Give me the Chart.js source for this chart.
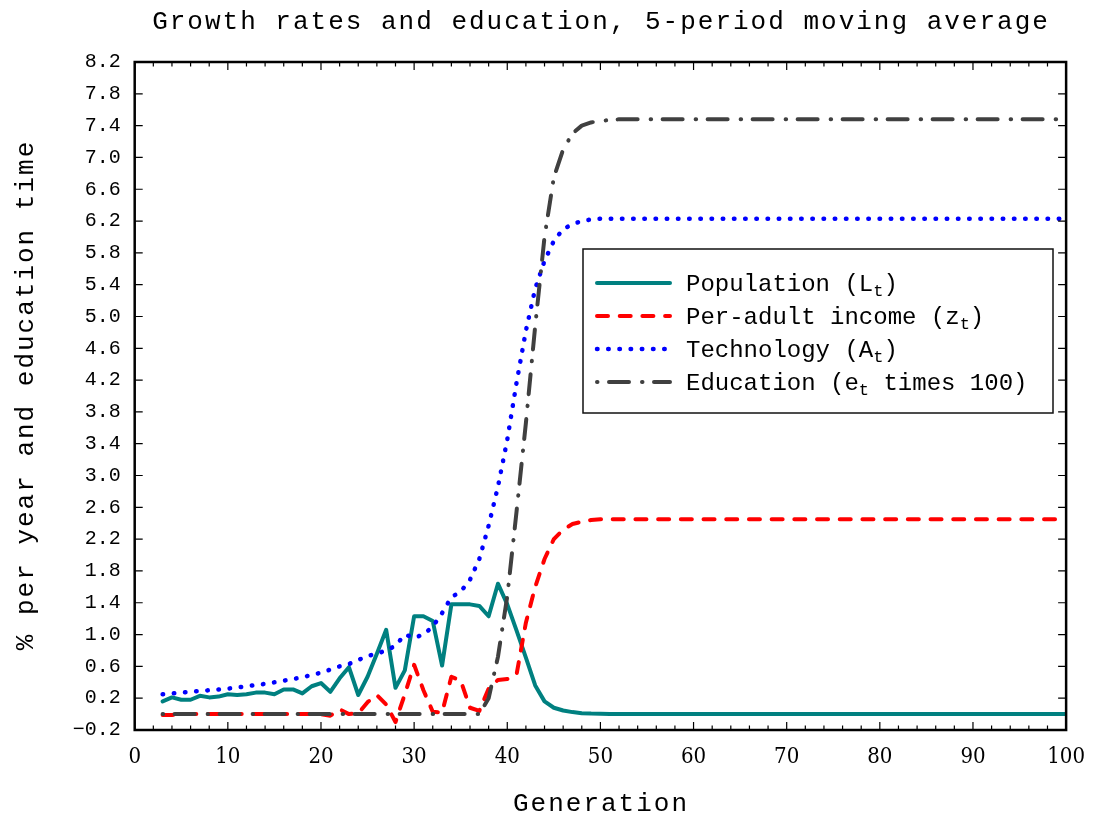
<!DOCTYPE html>
<html>
<head>
<meta charset="utf-8">
<script src="https://cdn.jsdelivr.net/npm/chart.js@4.4.0/dist/chart.umd.min.js"></script>
<style>
  html, body { margin: 0; padding: 0; background: #ffffff; }
  #wrap { width: 1099px; height: 818px; position: relative; }
</style>
</head>
<body>
<div id="wrap"><canvas id="chart" width="1099" height="818"></canvas></div>
<script>
// Generations (x values)
const generations = [
  3, 4, 5, 6, 7, 8, 9, 10, 11, 12, 13, 14, 15, 16, 17, 18, 19, 20, 21, 22, 23, 24,
  25, 26, 27, 28, 29, 30, 31, 32, 33, 34, 35, 36, 37, 38, 39, 40, 41, 42, 43, 44, 45, 46, 47, 48, 49, 50,
  51, 52, 53, 54, 55, 56, 57, 58, 59, 60, 61, 62, 63, 64, 65, 66, 67, 68, 69, 70,
  71, 72, 73, 74, 75, 76, 77, 78, 79, 80, 81, 82, 83, 84, 85, 86, 87, 88, 89, 90,
  91, 92, 93, 94, 95, 96, 97, 98, 99, 100
];

// Population growth (L_t), % per year
const population = [
  0.16, 0.21, 0.18, 0.18, 0.23, 0.21, 0.22, 0.25, 0.24, 0.25, 0.27, 0.27, 0.25, 0.31, 0.31, 0.26, 0.35, 0.39, 0.28, 0.45, 0.59, 0.24,
  0.47, 0.76, 1.06, 0.33, 0.55, 1.23, 1.23, 1.17, 0.61, 1.38, 1.38, 1.38, 1.36, 1.23, 1.64, 1.38, 1.05, 0.71, 0.36, 0.16, 0.08, 0.045, 0.025, 0.012, 0.006, 0.003,
  0, 0, 0, 0, 0, 0, 0, 0, 0, 0, 0, 0, 0, 0, 0, 0, 0, 0, 0, 0,
  0, 0, 0, 0, 0, 0, 0, 0, 0, 0, 0, 0, 0, 0, 0, 0, 0, 0, 0, 0,
  0, 0, 0, 0, 0, 0, 0, 0, 0, 0
];

// Per-adult income growth (z_t), % per year
const income = [
  -0.01, -0.01, 0, 0, 0, 0, 0, 0, 0, 0, 0, 0, 0, 0, 0, 0, 0, 0, -0.02, 0.06, 0, 0.01,
  0.15, 0.24, 0.12, -0.1, 0.25, 0.62, 0.3, 0.03, 0.02, 0.47, 0.42, 0.08, 0.04, 0.32, 0.43, 0.44, 0.5, 1.15, 1.6, 1.95, 2.2, 2.32, 2.39, 2.42, 2.44, 2.45,
  2.45, 2.45, 2.45, 2.45, 2.45, 2.45, 2.45, 2.45, 2.45, 2.45, 2.45, 2.45, 2.45, 2.45, 2.45, 2.45, 2.45, 2.45, 2.45, 2.45,
  2.45, 2.45, 2.45, 2.45, 2.45, 2.45, 2.45, 2.45, 2.45, 2.45, 2.45, 2.45, 2.45, 2.45, 2.45, 2.45, 2.45, 2.45, 2.45, 2.45,
  2.45, 2.45, 2.45, 2.45, 2.45, 2.45, 2.45, 2.45, 2.45, 2.45
];

// Technology growth (A_t), % per year
const technology = [
  0.25, 0.26, 0.27, 0.28, 0.29, 0.30, 0.31, 0.32, 0.335, 0.35, 0.365, 0.38, 0.40, 0.42, 0.44, 0.465, 0.49, 0.52, 0.56, 0.60, 0.63, 0.68,
  0.73, 0.76, 0.80, 0.86, 1.00, 0.96, 1.00, 1.10, 1.27, 1.47, 1.54, 1.69, 1.95, 2.37, 2.86, 3.45, 4.17, 4.82, 5.35, 5.70, 5.95, 6.10, 6.16, 6.20, 6.22, 6.23,
  6.23, 6.23, 6.23, 6.23, 6.23, 6.23, 6.23, 6.23, 6.23, 6.23, 6.23, 6.23, 6.23, 6.23, 6.23, 6.23, 6.23, 6.23, 6.23, 6.23,
  6.23, 6.23, 6.23, 6.23, 6.23, 6.23, 6.23, 6.23, 6.23, 6.23, 6.23, 6.23, 6.23, 6.23, 6.23, 6.23, 6.23, 6.23, 6.23, 6.23,
  6.23, 6.23, 6.23, 6.23, 6.23, 6.23, 6.23, 6.23, 6.23, 6.23
];

// Education time (e_t times 100)
const education = [
  0, 0, 0, 0, 0, 0, 0, 0, 0, 0, 0, 0, 0, 0, 0, 0, 0, 0, 0, 0, 0, 0,
  0, 0, 0, 0, 0, 0, 0, 0, 0, 0, 0, 0, 0, 0.2, 0.72, 1.48, 2.55, 3.66, 4.88, 6.0, 6.75, 7.1, 7.3, 7.4, 7.44, 7.46,
  7.47, 7.48, 7.48, 7.48, 7.48, 7.48, 7.48, 7.48, 7.48, 7.48, 7.48, 7.48, 7.48, 7.48, 7.48, 7.48, 7.48, 7.48, 7.48, 7.48,
  7.48, 7.48, 7.48, 7.48, 7.48, 7.48, 7.48, 7.48, 7.48, 7.48, 7.48, 7.48, 7.48, 7.48, 7.48, 7.48, 7.48, 7.48, 7.48, 7.48,
  7.48, 7.48, 7.48, 7.48, 7.48, 7.48, 7.48, 7.48, 7.48, 7.48
];

// Text
const chartTitle = 'Growth rates and education, 5-period moving average';
const xTitle = 'Generation';
const yTitle = '% per year and education time';
// legend entries: [before subscript, subscript, after subscript]
const legendLabels = [
  ['Population (L', 't', ')'],
  ['Per-adult income (z', 't', ')'],
  ['Technology (A', 't', ')'],
  ['Education (e', 't', ' times 100)']
];

const MONO = '"Liberation Mono", "DejaVu Sans Mono", monospace';

const toPoints = (ys) => generations.map((g, i) => ({ x: g, y: ys[i] }));

const seriesStyles = [
  { color: '#008080', width: 4, dash: [] },
  { color: '#ff0000', width: 4, dash: [11, 11.7] },
  { color: '#0000ff', width: 4.5, dash: [0.5, 10.7] },
  { color: '#404040', width: 4, dash: [0.5, 11.5, 20, 13] }
];
const seriesValues = [population, income, technology, education];

const datasets = seriesValues.map((vals, i) => ({
  label: legendLabels[i].join(''),
  data: toPoints(vals),
  borderColor: seriesStyles[i].color,
  backgroundColor: seriesStyles[i].color,
  borderWidth: seriesStyles[i].width,
  borderDash: seriesStyles[i].dash,
  borderCapStyle: 'round',
  borderJoinStyle: 'round',
  pointRadius: 0,
  pointHoverRadius: 0,
  tension: 0,
  fill: false,
  order: 3 - i
}));

// Frame, inward ticks, titles and legend
const decorations = {
  id: 'decorations',
  afterDraw(chart) {
    const ctx = chart.ctx;
    const area = chart.chartArea;
    const xs = chart.scales.x;
    const ys = chart.scales.y;
    ctx.save();

    // ticks pointing inward
    ctx.strokeStyle = '#000000';
    ctx.lineWidth = 1.2;
    ctx.beginPath();
    ys.ticks.forEach(t => {
      const py = ys.getPixelForValue(t.value);
      ctx.moveTo(area.left, py); ctx.lineTo(area.left + 8, py);
      ctx.moveTo(area.right, py); ctx.lineTo(area.right - 8, py);
    });
    for (let v = xs.min; v <= xs.max + 1e-9; v += 2) {
      const px = xs.getPixelForValue(v);
      const len = (Math.round(v) % 10 === 0) ? 8 : 4.5;
      ctx.moveTo(px, area.bottom); ctx.lineTo(px, area.bottom - len);
      ctx.moveTo(px, area.top); ctx.lineTo(px, area.top + len);
    }
    ctx.stroke();

    // frame
    ctx.lineWidth = 2.5;
    ctx.strokeRect(area.left, area.top, area.right - area.left, area.bottom - area.top);

    // titles
    ctx.fillStyle = '#000000';
    ctx.font = '26px ' + MONO;
    ctx.letterSpacing = '2px';
    ctx.textAlign = 'center';
    ctx.textBaseline = 'alphabetic';
    ctx.fillText(chartTitle, 601, 29);
    ctx.fillText(xTitle, 601, 811);
    ctx.save();
    ctx.translate(33, 395);
    ctx.rotate(-Math.PI / 2);
    ctx.fillText(yTitle, 0, 0);
    ctx.restore();
    ctx.letterSpacing = '0px';

    // legend
    const box = { x: 583, y: 249, w: 470, h: 164 };
    ctx.fillStyle = '#ffffff';
    ctx.fillRect(box.x, box.y, box.w, box.h);
    ctx.strokeStyle = '#111111';
    ctx.lineWidth = 1.5;
    ctx.strokeRect(box.x, box.y, box.w, box.h);
    const rowY = [283, 316, 349, 382];
    legendLabels.forEach((parts, i) => {
      const st = seriesStyles[i];
      const y = rowY[i];
      ctx.strokeStyle = st.color;
      ctx.lineWidth = st.width;
      ctx.lineCap = 'round';
      ctx.setLineDash(st.dash);
      ctx.beginPath();
      ctx.moveTo(597, y);
      ctx.lineTo(670, y);
      ctx.stroke();
      ctx.setLineDash([]);

      ctx.fillStyle = '#000000';
      ctx.textAlign = 'left';
      ctx.textBaseline = 'alphabetic';
      let x = 686;
      const base = y + 8;
      ctx.font = '24px ' + MONO;
      ctx.fillText(parts[0], x, base);
      x += ctx.measureText(parts[0]).width;
      ctx.font = '17px ' + MONO;
      ctx.fillText(parts[1], x, base + 5);
      x += ctx.measureText(parts[1]).width;
      ctx.font = '24px ' + MONO;
      ctx.fillText(parts[2], x, base);
    });
    ctx.restore();
  }
};

new Chart(document.getElementById('chart'), {
  type: 'line',
  data: { datasets },
  options: {
    responsive: false,
    devicePixelRatio: 1,
    animation: false,
    events: [],
    layout: { padding: { top: 62, right: 31.3, bottom: 0, left: 0 } },
    plugins: {
      legend: { display: false },
      title: { display: false },
      tooltip: { enabled: false }
    },
    scales: {
      x: {
        type: 'linear',
        min: 0,
        max: 100,
        grid: { display: false, drawTicks: false },
        border: { display: false },
        ticks: {
          stepSize: 10,
          padding: 14,
          color: '#000000',
          maxRotation: 0,
          font: { family: '"DejaVu Serif Condensed", "Liberation Serif", serif', size: 22 }
        },
        afterFit(scale) { scale.height = 88; }
      },
      y: {
        type: 'linear',
        min: -0.2,
        max: 8.2,
        grid: { display: false, drawTicks: false },
        border: { display: false },
        ticks: {
          stepSize: 0.4,
          padding: 14,
          color: '#000000',
          font: { family: MONO, size: 20 },
          callback: (v) => (Math.round(v * 10) / 10).toFixed(1).replace('-', '\u2212')
        },
        afterFit(scale) { scale.width = 134.7; }
      }
    }
  },
  plugins: [decorations]
});
</script>
</body>
</html>
